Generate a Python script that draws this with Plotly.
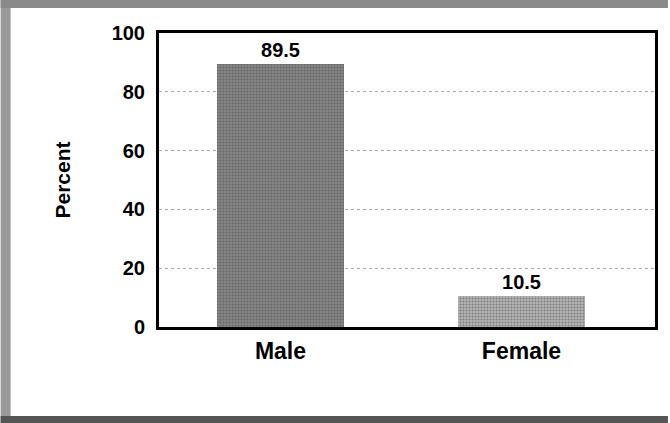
import plotly.graph_objects as go

categories = ["Male", "Female"]
values = [89.5, 10.5]
value_labels = ["89.5", "10.5"]
tick_vals = [0, 20, 40, 60, 80, 100]
tick_text = ["0", "20", "40", "60", "80", "100"]

W, H = 670, 423
L, R, T, B = 159, 13, 33, 96
pw, ph = W - L - R, H - T - B

def px(x):
    return (x - L) / pw

def py(y):
    return (H - B - y) / ph

FAM = "Liberation Sans"

fig = go.Figure()
fig.add_trace(go.Bar(
    x=[0, 1], y=values, width=0.525,
    marker=dict(
        color=["#868686", "#b4b4b4"],
        line=dict(width=0),
        pattern=dict(shape=".", fgcolor=["#333333", "#6a6a6a"], size=3, solidity=0.35),
    ),
    text=value_labels, textposition="outside", cliponaxis=False,
    textfont=dict(family=FAM, size=20, color="black", weight="bold"),
    showlegend=False,
))

fig.update_layout(
    width=W, height=H,
    margin=dict(l=L, r=R, t=T, b=B),
    paper_bgcolor="white", plot_bgcolor="white",
    bargap=0,
    xaxis=dict(
        range=[-0.504, 1.554], tickvals=[0, 1], ticktext=categories,
        tickfont=dict(family=FAM, size=23, color="black", weight="bold"),
        showline=True, linecolor="black", linewidth=3, mirror=True,
        showgrid=False, zeroline=False, ticks="", ticklabelstandoff=1,
    ),
    yaxis=dict(
        range=[0, 100], tickvals=tick_vals, ticktext=tick_text,
        tickfont=dict(family=FAM, size=20, color="black", weight="bold"),
        showline=True, linecolor="black", linewidth=3, mirror=True,
        showgrid=True, gridcolor="#a8a8a8", griddash="dot", gridwidth=1,
        zeroline=False, ticks="", ticklabelstandoff=7,
        title=dict(text="Percent", font=dict(family=FAM, size=21, color="black", weight="bold"), standoff=36),
    ),
    shapes=[
        dict(type="rect", xref="paper", yref="paper", x0=px(0), x1=px(10), y0=py(423), y1=py(0),
             fillcolor="#9a9a9a", line=dict(width=0), layer="below"),
        dict(type="rect", xref="paper", yref="paper", x0=px(0), x1=px(670), y0=py(8), y1=py(0),
             fillcolor="#8a8a8a", line=dict(width=0), layer="below"),
        dict(type="rect", xref="paper", yref="paper", x0=px(0), x1=px(670), y0=py(423), y1=py(416),
             fillcolor="#555555", line=dict(width=0), layer="below"),
    ],
)

fig.write_html("out.html", config={"displayModeBar": False},
               post_script="document.body.style.margin='0px';document.body.style.overflow='hidden';")
